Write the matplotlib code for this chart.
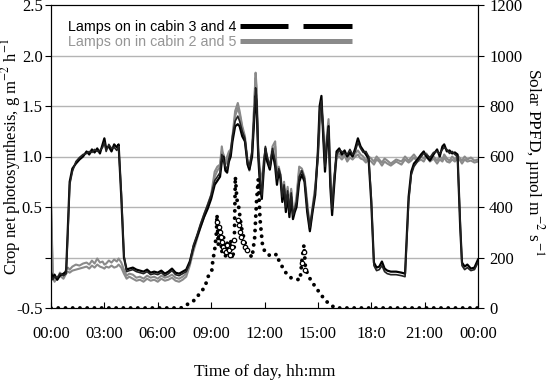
import matplotlib
matplotlib.use("Agg")
import matplotlib.pyplot as plt

plt.rcParams['font.family'] = ['Liberation Serif', 'DejaVu Serif']
plt.rcParams['mathtext.fontset'] = 'stix'
plt.rcParams['lines.scale_dashes'] = False

hours = [0.0, 0.1, 0.2, 0.35, 0.5, 0.7, 0.85, 0.95, 1.05, 1.2,
         1.4, 1.6, 1.8, 2.0, 2.15, 2.3, 2.45, 2.6, 2.75, 2.9,
         3.0, 3.1, 3.25, 3.4, 3.55, 3.7, 3.8, 3.95, 4.1, 4.25,
         4.4, 4.6, 4.8, 5.0, 5.2, 5.4, 5.6, 5.8, 6.0, 6.2,
         6.4, 6.6, 6.8, 7.0, 7.2, 7.4, 7.6, 7.8, 8.0, 8.2,
         8.4, 8.6, 8.8, 9.0, 9.2, 9.35, 9.5, 9.6, 9.7, 9.8,
         9.9, 10.0, 10.1, 10.2, 10.35, 10.5, 10.6, 10.75, 10.9, 11.05,
         11.15, 11.3, 11.4, 11.5, 11.55, 11.65, 11.75, 11.85, 11.95, 12.05,
         12.15, 12.3, 12.45, 12.6, 12.7, 12.8, 12.9, 13.0, 13.1, 13.2,
         13.3, 13.4, 13.5, 13.6, 13.7, 13.8, 13.95, 14.1, 14.25, 14.4,
         14.55, 14.7, 14.85, 15.0, 15.1, 15.2, 15.3, 15.4, 15.5, 15.6,
         15.7, 15.8, 15.95, 16.05, 16.2, 16.35, 16.5, 16.65, 16.8, 16.95,
         17.1, 17.25, 17.4, 17.55, 17.7, 17.85, 18.0, 18.15, 18.3, 18.45,
         18.6, 18.75, 18.9, 19.1, 19.4, 19.7, 19.9, 20.1, 20.25, 20.4,
         20.6, 20.8, 20.95, 21.1, 21.3, 21.5, 21.7, 21.85, 22.0, 22.1,
         22.25, 22.4, 22.55, 22.7, 22.85, 23.0, 23.1, 23.25, 23.4, 23.6,
         23.8, 24.0]

cabin3 = [-0.15, -0.20, -0.17, -0.22, -0.18, -0.16, -0.14, 0.30, 0.75, 0.88,
          0.93, 0.97, 1.00, 1.05, 1.02, 1.07, 1.04, 1.08, 1.03, 1.12,
          1.18, 1.08, 1.10, 1.05, 1.12, 1.09, 1.12, 0.60, 0.00, -0.12,
          -0.11, -0.10, -0.12, -0.13, -0.14, -0.12, -0.15, -0.14, -0.15, -0.13,
          -0.16, -0.14, -0.11, -0.15, -0.16, -0.14, -0.12, -0.04, 0.10, 0.20,
          0.30, 0.40, 0.48, 0.58, 0.72, 0.76, 0.80, 0.95, 1.00, 0.86,
          0.84, 0.95, 1.00, 1.15, 1.30, 1.32, 1.30, 1.20, 1.15, 0.92,
          0.87, 1.00, 1.30, 1.60, 1.55, 1.00, 0.70, 0.58, 0.85, 1.08,
          0.95, 0.87, 1.05, 0.90, 0.72, 0.85, 0.78, 0.55, 0.68, 0.45,
          0.62, 0.40, 0.60, 0.38, 0.45, 0.50, 0.75, 0.82, 0.75, 0.45,
          0.26, 0.45, 0.62, 1.05, 1.50, 1.60, 1.20, 0.85, 1.10, 1.30,
          0.70, 0.42, 0.80, 1.05, 1.08, 1.02, 1.06, 1.00, 1.04, 1.00,
          1.08, 1.18, 1.10, 1.06, 1.02, 0.98, 0.55, -0.05, -0.10, -0.09,
          -0.04, -0.11, -0.13, -0.14, -0.14, -0.15, -0.16, 0.60, 0.85, 0.93,
          0.97, 1.02, 1.05, 1.00, 0.96, 1.02, 1.07, 1.00, 1.10, 1.12,
          1.05, 1.06, 1.03, 1.04, 1.02, 0.30, -0.05, -0.09, -0.07, -0.11,
          -0.10, -0.02]

cabin4 = [-0.18, -0.22, -0.19, -0.20, -0.16, -0.18, -0.16, 0.25, 0.72, 0.85,
          0.95, 0.99, 1.02, 1.03, 1.05, 1.04, 1.07, 1.05, 1.06, 1.09,
          1.14, 1.05, 1.12, 1.08, 1.09, 1.06, 1.10, 0.65, 0.02, -0.14,
          -0.13, -0.12, -0.14, -0.15, -0.16, -0.14, -0.17, -0.16, -0.17, -0.15,
          -0.18, -0.16, -0.13, -0.17, -0.18, -0.16, -0.14, -0.06, 0.12, 0.22,
          0.33, 0.43, 0.52, 0.62, 0.76, 0.80, 0.84, 1.02, 0.96, 0.90,
          0.88, 0.98, 1.05, 1.20, 1.35, 1.40, 1.35, 1.25, 1.18, 0.95,
          0.90, 1.05, 1.35, 1.68, 1.60, 1.05, 0.78, 0.62, 0.90, 1.10,
          1.00, 0.90, 1.08, 0.95, 0.78, 0.88, 0.82, 0.60, 0.72, 0.50,
          0.66, 0.45, 0.64, 0.42, 0.48, 0.55, 0.80, 0.86, 0.78, 0.50,
          0.30, 0.48, 0.66, 1.00, 1.45, 1.55, 1.25, 0.90, 1.15, 1.28,
          0.75, 0.48, 0.85, 1.02, 1.06, 1.05, 1.03, 1.02, 1.07, 1.02,
          1.05, 1.14, 1.08, 1.04, 1.05, 1.00, 0.60, -0.08, -0.13, -0.12,
          -0.08, -0.14, -0.16, -0.17, -0.17, -0.18, -0.19, 0.55, 0.82, 0.90,
          0.95, 1.00, 1.03, 1.02, 0.99, 1.04, 1.05, 1.03, 1.07, 1.09,
          1.07, 1.03, 1.05, 1.02, 1.00, 0.35, -0.08, -0.12, -0.10, -0.13,
          -0.12, -0.05]

cabin2 = [0.57, -0.15, -0.20, -0.22, -0.15, -0.18, -0.12, -0.10, -0.12, -0.09,
          -0.07, -0.08, -0.06, -0.05, -0.07, -0.03, -0.06, -0.01, -0.05, -0.04,
          -0.07, -0.06, -0.03, -0.05, -0.02, -0.04, -0.01, -0.05, -0.12, -0.18,
          -0.16, -0.17, -0.20, -0.19, -0.21, -0.18, -0.20, -0.19, -0.21, -0.18,
          -0.20, -0.19, -0.17, -0.20, -0.21, -0.19, -0.16, -0.05, 0.08, 0.20,
          0.32, 0.42, 0.52, 0.62, 0.85, 0.90, 0.92, 1.10, 0.98, 0.95,
          1.00, 1.05, 1.07, 1.20, 1.45, 1.53, 1.45, 1.30, 1.20, 0.95,
          0.88, 1.05, 1.45, 1.83, 1.70, 1.05, 0.85, 0.75, 0.95, 1.05,
          1.00, 0.90, 1.10, 1.15, 0.80, 0.90, 0.82, 0.65, 0.75, 0.55,
          0.70, 0.50, 0.68, 0.45, 0.50, 0.60, 0.90, 0.88, 0.80, 0.55,
          0.30, 0.50, 0.70, 1.00, 1.35, 1.50, 1.30, 0.95, 1.20, 1.37,
          0.85, 0.55, 0.85, 1.00, 1.03, 1.00, 1.04, 0.98, 1.02, 1.00,
          1.03, 1.06, 1.02, 1.00, 0.96, 1.00, 0.98, 0.95, 1.00, 0.97,
          0.94, 0.98, 0.96, 0.93, 0.97, 0.95, 1.00, 0.96, 0.99, 1.02,
          0.97, 1.00, 0.98, 1.03, 0.97, 1.00, 0.96, 1.00, 0.97, 1.02,
          0.98, 0.96, 1.00, 0.97, 1.01, 0.98, 0.96, 1.00, 0.97, 0.99,
          0.96, 0.97]

cabin5 = [0.50, -0.20, -0.24, -0.20, -0.18, -0.21, -0.16, -0.14, -0.15, -0.13,
          -0.12, -0.11, -0.10, -0.09, -0.11, -0.08, -0.10, -0.07, -0.09, -0.10,
          -0.11, -0.09, -0.10, -0.08, -0.10, -0.09, -0.07, -0.10, -0.16, -0.21,
          -0.19, -0.21, -0.23, -0.22, -0.24, -0.21, -0.23, -0.22, -0.24, -0.21,
          -0.23, -0.22, -0.20, -0.23, -0.24, -0.22, -0.19, -0.08, 0.06, 0.18,
          0.30, 0.40, 0.50, 0.60, 0.80, 0.86, 0.90, 1.05, 1.02, 0.92,
          0.96, 1.02, 1.05, 1.18, 1.40, 1.48, 1.42, 1.28, 1.16, 0.93,
          0.86, 1.02, 1.40, 1.78, 1.65, 1.02, 0.82, 0.72, 0.92, 1.02,
          0.98, 0.88, 1.06, 1.10, 0.78, 0.88, 0.80, 0.62, 0.72, 0.52,
          0.68, 0.47, 0.66, 0.43, 0.48, 0.57, 0.86, 0.85, 0.78, 0.52,
          0.28, 0.48, 0.68, 0.98, 1.30, 1.45, 1.28, 0.92, 1.15, 1.32,
          0.80, 0.52, 0.82, 0.98, 1.00, 0.97, 1.01, 0.95, 0.99, 0.97,
          1.00, 1.02, 0.98, 0.97, 0.94, 0.97, 0.95, 0.92, 0.97, 0.95,
          0.91, 0.95, 0.93, 0.91, 0.95, 0.92, 0.97, 0.94, 0.96, 0.99,
          0.95, 0.97, 0.95, 1.00, 0.95, 0.98, 0.93, 0.97, 0.95, 0.99,
          0.95, 0.94, 0.97, 0.95, 0.98, 0.96, 0.93, 0.97, 0.95, 0.96,
          0.94, 0.95]

ppfd_hours = [0, 7.3, 7.42, 7.8, 8.09, 8.37, 8.65, 8.82, 9.04, 9.1,
              9.2, 9.3, 9.33, 9.4, 9.5, 9.6, 9.7, 9.8, 9.9, 10.0,
              10.1, 10.2, 10.3, 10.36, 10.45, 10.55, 10.7, 10.9, 11.1, 11.3,
              11.45, 11.55, 11.65, 11.75, 11.9, 12.1, 12.4, 12.7, 12.8, 13.0,
              13.2, 13.5, 14.0, 14.12, 14.22, 14.3, 14.4, 14.6, 14.9, 15.2,
              15.5, 15.8, 16.0, 24]
ppfd = [0, 0, 4, 20, 32, 59, 83, 123, 150, 190,
        230, 300, 370, 250, 320, 220, 280, 200, 260, 210,
        270, 195, 240, 520, 430, 400, 320, 260, 220, 200,
        280, 420, 510, 350, 240, 215, 205, 213, 190, 163,
        140, 119, 111, 200, 250, 160, 139, 110, 80, 50,
        25, 8, 0, 0]

ppfd2_hours = [9.35, 9.45, 9.5, 9.55, 9.6, 9.65, 9.75, 9.85, 9.9, 10.0,
               10.05, 10.15, 10.3, 10.5, 10.55, 10.65, 10.7, 10.8, 10.9, 11.0,
               14.1, 14.2, 14.3]
ppfd2 = [340, 320, 300, 280, 260, 240, 230, 220, 250, 230,
         210, 240, 270, 350, 330, 300, 280, 260, 240, 230,
         180, 220, 150]

lamp_on_34 = [(10.62, 13.3), (14.16, 16.9)]
lamp_on_25 = [(10.62, 16.9)]

xtick_pos = [0, 3, 6, 9, 12, 15, 18, 21, 24]
xtick_labels = ["00:00", "03:00", "06:00", "09:00", "12:00", "15:00", "18:0", "21:00", "00:00"]
ytick_pos = [-0.5, 0, 0.5, 1.0, 1.5, 2.0, 2.5]
ytick_labels = ["-0.5", "", "0.5", "1.0", "1.5", "2.0", "2.5"]
y2tick_pos = [0, 200, 400, 600, 800, 1000, 1200]

fig = plt.figure(figsize=(5.5, 3.81), dpi=100)
ax = fig.add_axes([51/550, 1-308/381, 427/550, 303/381])

for v in [0, 0.5, 1.0, 1.5, 2.0]:
    ax.axhline(v, color='#b4b4b4', lw=1.0, zorder=0)

gray = '#8a8a8a'
ax.plot(hours, cabin2, color=gray, lw=1.5, zorder=2)
ax.plot(hours, cabin5, color=gray, lw=1.5, zorder=2)
ax.plot(hours, cabin3, color='black', lw=1.6, zorder=3)
ax.plot(hours, cabin4, color='#222222', lw=1.2, zorder=3)

ax.set_xlim(0, 24)
ax.set_ylim(-0.5, 2.5)
ax.set_xticks(xtick_pos)
ax.set_xticklabels(xtick_labels)
ax.set_yticks(ytick_pos)
ax.set_yticklabels(ytick_labels)
ax.tick_params(axis='x', direction='in', length=4, labelsize=12, pad=13)
ax.tick_params(axis='y', direction='out', length=4, labelsize=12, pad=2)
ax.set_xlabel("Time of day, hh:mm", fontsize=12.5)
ax.xaxis.set_label_coords(0.5, -0.185)
ax.set_ylabel("Crop net photosynthesis, g m$^{-2}$ h$^{-1}$", fontsize=12)
ax.yaxis.set_label_coords(-0.066, 0.5)

# lamp schedule bars
for a, b in lamp_on_34:
    ax.plot([a, b], [2.29, 2.29], color='black', lw=3.6, solid_capstyle='butt', zorder=4)
for a, b in lamp_on_25:
    ax.plot([a, b], [2.14, 2.14], color=gray, lw=3.6, solid_capstyle='butt', zorder=4)
ax.text(0.04, 0.928, "Lamps on in cabin 3 and 4", transform=ax.transAxes,
        fontsize=10.3, family=['Liberation Sans', 'DejaVu Sans'], color='black', va='center')
ax.text(0.04, 0.878, "Lamps on in cabin 2 and 5", transform=ax.transAxes,
        fontsize=10.3, family=['Liberation Sans', 'DejaVu Sans'], color='#959595', va='center')

ax2 = ax.twinx()
ax2.set_ylim(0, 1200)
ax2.set_yticks(y2tick_pos)
ax2.tick_params(axis='y', direction='out', length=4, labelsize=12, pad=4)
ax2.plot(ppfd_hours, ppfd, color='black', lw=2.8, linestyle=(0, (0.01, 5.2)),
         dash_capstyle='round', zorder=5)
ax2.plot(ppfd2_hours, ppfd2, linestyle='none', marker='o', ms=3.2, mfc='white',
         mec='black', mew=0.9, zorder=6)
ax2.set_ylabel("Solar PPFD, \u00b5mol m$^{-2}$ s$^{-1}$", fontsize=12.5, rotation=270)
ax2.yaxis.set_label_coords(1.16, 0.48)

fig.savefig("out.png", dpi=100)
